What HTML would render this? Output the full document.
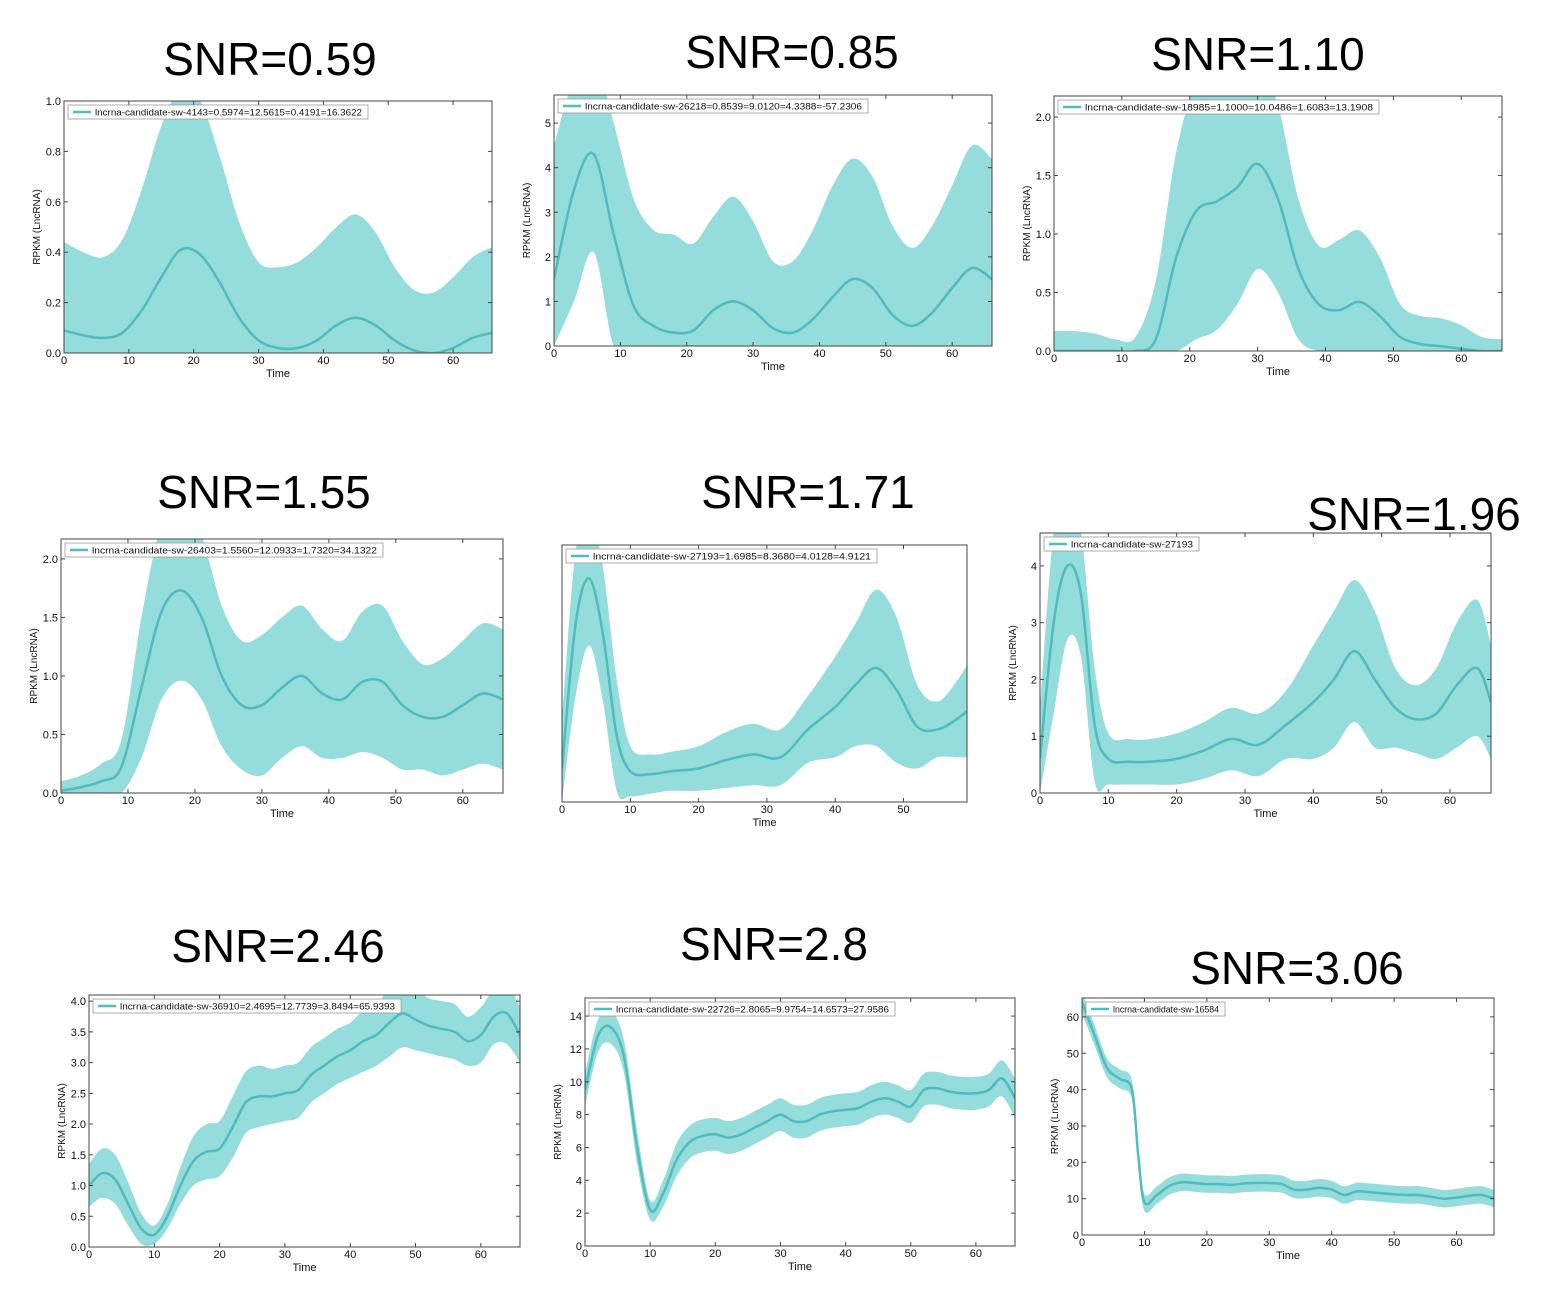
<!DOCTYPE html>
<html><head><meta charset="utf-8"><style>
html,body{margin:0;padding:0;background:#fff;}
svg{display:block;font-family:"Liberation Sans",sans-serif;}
</style></head><body>
<svg id="fig" width="1550" height="1304" viewBox="0 0 1550 1304" xmlns="http://www.w3.org/2000/svg"></svg>
<script>
// ---- data (per panel small arrays) ----
const titles = ["SNR=0.59","SNR=0.85","SNR=1.10","SNR=1.55","SNR=1.71","SNR=1.96","SNR=2.46","SNR=2.8","SNR=3.06"];
const legends = [
 "lncrna-candidate-sw-4143=0.5974=12.5615=0.4191=16.3622",
 "lncrna-candidate-sw-26218=0.8539=9.0120=4.3388=-57.2306",
 "lncrna-candidate-sw-18985=1.1000=10.0486=1.6083=13.1908",
 "lncrna-candidate-sw-26403=1.5560=12.0933=1.7320=34.1322",
 "lncrna-candidate-sw-27193=1.6985=8.3680=4.0128=4.9121",
 "lncrna-candidate-sw-27193",
 "lncrna-candidate-sw-36910=2.4695=12.7739=3.8494=65.9393",
 "lncrna-candidate-sw-22726=2.8065=9.9754=14.6573=27.9586",
 "lncrna-candidate-sw-16584"];
const xs3 = [0,3,6,9,12,15,18,21,24,27,30,33,36,39,42,45,48,51,54,57,60,63,66];
const xsA = [0,2,4,6,8,10,13,16,20,24,28,32,36,40,43,46,49,52,55,58,61];
const xsB = [0,2,4,6,8,10,13,16,20,24,28,32,36,40,43,46,49,52,55,58,61,64,66];
const xs2 = [0,2,4,6,8,10,12,14,16,18,20,22,24,26,28,30,32,34,36,38,40,42,44,46,48,50,52,54,56,58,60,62,64,66];
const xs9 = [0,2,4,6,8,9,10,12,14,16,18,20,22,24,26,28,30,32,34,36,38,40,42,44,46,48,50,52,54,56,58,60,62,64,66];

const mean1 = [0.09,0.07,0.06,0.08,0.17,0.3,0.41,0.39,0.28,0.14,0.05,0.02,0.02,0.05,0.11,0.14,0.11,0.05,0.01,0.0,0.02,0.06,0.08];
const band1 = [0.35,0.33,0.32,0.37,0.48,0.6,0.64,0.61,0.5,0.38,0.31,0.32,0.34,0.37,0.39,0.41,0.37,0.29,0.24,0.24,0.28,0.32,0.34];
const mean2 = [1.5,3.5,4.3,2.5,0.9,0.45,0.3,0.35,0.8,1.0,0.8,0.4,0.3,0.6,1.1,1.5,1.3,0.7,0.45,0.75,1.3,1.75,1.5];
const band2 = [3,2.5,2.2,2.5,2.4,2.15,2.2,1.95,2.1,2.35,2.0,1.5,1.6,2.0,2.5,2.7,2.5,2.0,1.75,1.95,2.3,2.75,2.7];
const mean3 = [0,0,0,0,0,0.1,0.8,1.2,1.28,1.4,1.6,1.3,0.7,0.4,0.35,0.42,0.3,0.12,0.06,0.04,0.02,0,0];
const band3 = [0.17,0.17,0.15,0.1,0.12,0.5,0.9,1.1,1.1,1.0,0.9,0.8,0.6,0.5,0.6,0.61,0.5,0.28,0.24,0.24,0.2,0.12,0.1];
const mean4 = [0.02,0.05,0.1,0.22,0.9,1.55,1.73,1.5,1.0,0.75,0.75,0.9,1.0,0.85,0.8,0.95,0.95,0.75,0.65,0.65,0.75,0.85,0.8];
const band4 = [0.08,0.1,0.15,0.23,0.6,0.75,0.77,0.7,0.6,0.55,0.6,0.6,0.6,0.55,0.5,0.6,0.65,0.55,0.45,0.5,0.55,0.6,0.6];
const mean5 = [0.6,3.2,4.0,3.0,1.2,0.55,0.5,0.55,0.6,0.75,0.85,0.8,1.3,1.7,2.1,2.4,2.0,1.35,1.3,1.5,1.8];
const band5 = [0.9,1.3,1.2,1.2,1.0,0.45,0.35,0.35,0.4,0.5,0.55,0.5,0.6,0.9,1.1,1.4,1.3,0.75,0.5,0.7,1.0];
const mean6 = [0.6,3.0,4.0,3.5,1.2,0.6,0.55,0.55,0.6,0.75,0.95,0.85,1.2,1.6,2.0,2.5,2.0,1.5,1.3,1.4,1.9,2.2,1.6];
const band6 = [0.9,1.6,1.3,1.1,1.0,0.45,0.4,0.4,0.45,0.5,0.55,0.55,0.6,1.0,1.2,1.25,1.2,0.7,0.6,0.8,1.1,1.2,1.0];
const mean7 = [1.0,1.2,1.1,0.7,0.3,0.2,0.5,1.0,1.4,1.55,1.6,1.95,2.35,2.45,2.45,2.5,2.55,2.8,2.95,3.1,3.2,3.35,3.45,3.65,3.8,3.7,3.6,3.55,3.5,3.35,3.45,3.75,3.8,3.45];
const band7 = [0.35,0.4,0.4,0.35,0.25,0.15,0.2,0.3,0.4,0.45,0.45,0.5,0.5,0.5,0.45,0.45,0.45,0.45,0.45,0.45,0.45,0.5,0.5,0.55,0.55,0.5,0.45,0.45,0.45,0.4,0.45,0.45,0.5,0.45];
const mean8 = [9.5,12.8,13.3,11.5,6.0,2.2,3.2,5.2,6.3,6.7,6.8,6.6,6.8,7.2,7.6,8.0,7.6,7.6,8.0,8.2,8.3,8.4,8.8,9.0,8.8,8.5,9.5,9.6,9.4,9.3,9.3,9.5,10.2,9.0];
const band8 = [1.0,1.0,1.0,1.0,1.0,0.6,0.8,1.0,1.0,1.0,1.0,1.0,1.0,1.0,1.0,1.0,1.0,1.0,1.0,1.0,1.0,1.0,1.0,1.0,1.0,1.0,1.0,1.0,1.0,1.0,1.0,1.0,1.1,1.2];
const mean9 = [64,55,46,43,40,22,9,11,13.5,14.5,14.3,14,14,13.8,14.2,14.3,14.3,14,12.5,12.5,13,12.5,11,12,11.8,11.5,11.2,11,11,10.5,10,10.3,10.8,11,10];
const band9 = [3,2.8,2.6,2.6,2.6,2.6,2.4,2.4,2.4,2.4,2.4,2.4,2.4,2.4,2.4,2.4,2.4,2.4,2.4,2.4,2.4,2.4,2.4,2.4,2.4,2.4,2.4,2.4,2.4,2.4,2.4,2.4,2.4,2.4,2.4];

const yTicks = [[0,0.2,0.4,0.6,0.8,1.0],[0,1,2,3,4,5],[0,0.5,1,1.5,2],[0,0.5,1,1.5,2],[],[0,1,2,3,4],[0,0.5,1,1.5,2,2.5,3,3.5,4],[0,2,4,6,8,10,12,14],[0,10,20,30,40,50,60]];
const yFmt = [1,0,1,1,0,0,1,0,0];
const xTicks = [0,10,20,30,40,50,60];

// layout (not data)
const panels = [
 {L:64,T:101,R:492,B:353,xmax:66,ymax:1.0,tx:270,ty:75,lw:300,xs:xs3,m:mean1,b:band1},
 {L:554,T:95,R:992,B:346,xmax:66,ymax:5.63,tx:792,ty:68,lw:310,xs:xs3,m:mean2,b:band2},
 {L:1054,T:96,R:1502,B:351,xmax:66,ymax:2.18,tx:1258,ty:70,lw:321,xs:xs3,m:mean3,b:band3},
 {L:61,T:539,R:503,B:793,xmax:66,ymax:2.17,tx:264,ty:508,lw:318,xs:xs3,m:mean4,b:band4},
 {L:562,T:545,R:967,B:802,xmax:59.3,ymax:4.6,tx:808,ty:508,lw:311,xs:xsA,m:mean5,b:band5},
 {L:1040,T:533,R:1491,B:793,xmax:66,ymax:4.58,tx:1414,ty:530,lw:155,xs:xsB,m:mean6,b:band6},
 {L:89,T:995,R:520,B:1247,xmax:66,ymax:4.1,tx:278,ty:962,lw:308,xs:xs2,m:mean7,b:band7},
 {L:585,T:998,R:1015,B:1246,xmax:66,ymax:15.1,tx:774,ty:960,lw:306,xs:xs2,m:mean8,b:band8},
 {L:1082,T:998,R:1494,B:1235,xmax:66,ymax:65.2,tx:1297,ty:984,lw:139,xs:xs9,m:mean9,b:band9}
];

const NS="http://www.w3.org/2000/svg";
const svg=document.getElementById('fig');
function mk(tag,attrs,parent){const e=document.createElementNS(NS,tag);for(const k in attrs)e.setAttribute(k,attrs[k]);(parent||svg).appendChild(e);return e;}
function smooth(pts,start){let d=start?('M'+pts[0][0].toFixed(1)+','+pts[0][1].toFixed(1)):('L'+pts[0][0].toFixed(1)+','+pts[0][1].toFixed(1));
 for(let i=0;i<pts.length-1;i++){const p0=pts[i-1]||pts[i],p1=pts[i],p2=pts[i+1],p3=pts[i+2]||p2;
  const c1=[p1[0]+(p2[0]-p0[0])/6,p1[1]+(p2[1]-p0[1])/6],c2=[p2[0]-(p3[0]-p1[0])/6,p2[1]-(p3[1]-p1[1])/6];
  d+='C'+c1[0].toFixed(1)+','+c1[1].toFixed(1)+' '+c2[0].toFixed(1)+','+c2[1].toFixed(1)+' '+p2[0].toFixed(1)+','+p2[1].toFixed(1);}
 return d;}

panels.forEach((p,i)=>{
 const g=mk('g',{});
 
 
 const X=v=>p.L+(v/p.xmax)*(p.R-p.L);
 const Y=v=>p.B-(v/p.ymax)*(p.B-p.T);
 const t=mk('text',{x:p.tx,y:p.ty,'text-anchor':'middle','font-size':'46',fill:'#000'},g);
 t.textContent=titles[i];
 
 
 const cid='clip'+i;
 const cp=mk('clipPath',{id:cid},g);mk('rect',{x:p.L,y:p.T,width:p.R-p.L,height:p.B-p.T},cp);
 const pg=mk('g',{'clip-path':'url(#'+cid+')'},g);
 const up=p.xs.map((x,k)=>[X(x),Y(p.m[k]+p.b[k])]);
 const lo=p.xs.map((x,k)=>[X(x),Y(Math.max(0,p.m[k]-p.b[k]))]).reverse();
 const band=mk('path',{d:smooth(up,true)+smooth(lo,false)+'Z',fill:'#95dcdc',stroke:'none'},pg);
 
 
 const line=mk('path',{d:smooth(p.xs.map((x,k)=>[X(x),Y(p.m[k])]),true),fill:'none',stroke:'#4fbcbd','stroke-width':2.5},pg);
 
 
 const fr=mk('rect',{x:p.L,y:p.T,width:p.R-p.L,height:p.B-p.T,fill:'none',stroke:'#444','stroke-width':1},g);
 
 
 xTicks.forEach(v=>{if(v>p.xmax+0.5)return;const x=X(v);
  mk('line',{x1:x,x2:x,y1:p.B,y2:p.B-4,stroke:'#444'},g);mk('line',{x1:x,x2:x,y1:p.T,y2:p.T+4,stroke:'#444'},g);
  const tl=mk('text',{x:x,y:p.B+11,'text-anchor':'middle','font-size':'11',fill:'#111'},g);tl.textContent=v;
  
  });
 yTicks[i].forEach(v=>{const y=Y(v);
  mk('line',{x1:p.L,x2:p.L+4,y1:y,y2:y,stroke:'#444'},g);mk('line',{x1:p.R,x2:p.R-4,y1:y,y2:y,stroke:'#444'},g);
  const tl=mk('text',{x:p.L-3,y:y+4,'text-anchor':'end','font-size':'11',fill:'#111'},g);tl.textContent=v.toFixed(yFmt[i]);
  
  });
 const xl=mk('text',{x:(p.L+p.R)/2,y:p.B+24,'text-anchor':'middle','font-size':'11',fill:'#111'},g);xl.textContent='Time';
 
 
 if(i!==4){const cx=p.L-24,cy=(p.T+p.B)/2;
  const yl=mk('text',{x:cx,y:cy,'text-anchor':'middle','font-size':'10',fill:'#111',transform:'rotate(-90 '+cx+' '+cy+')'},g);yl.textContent='RPKM (LncRNA)';
  
  }
 const lg=mk('g',{},g);
 
 
 mk('rect',{x:p.L+4,y:p.T+4,width:p.lw,height:14,fill:'#fff',stroke:'#999','stroke-width':0.8},lg);
 mk('line',{x1:p.L+9,x2:p.L+27,y1:p.T+11,y2:p.T+11,stroke:'#4fbcbd','stroke-width':2.5},lg);
 const lt=mk('text',{x:p.L+31,y:p.T+14.5,'font-size':'9',fill:'#111',textLength:p.lw-33,lengthAdjust:'spacingAndGlyphs'},lg);
 lt.textContent=legends[i];
 
 
});
</script>
</body></html>
